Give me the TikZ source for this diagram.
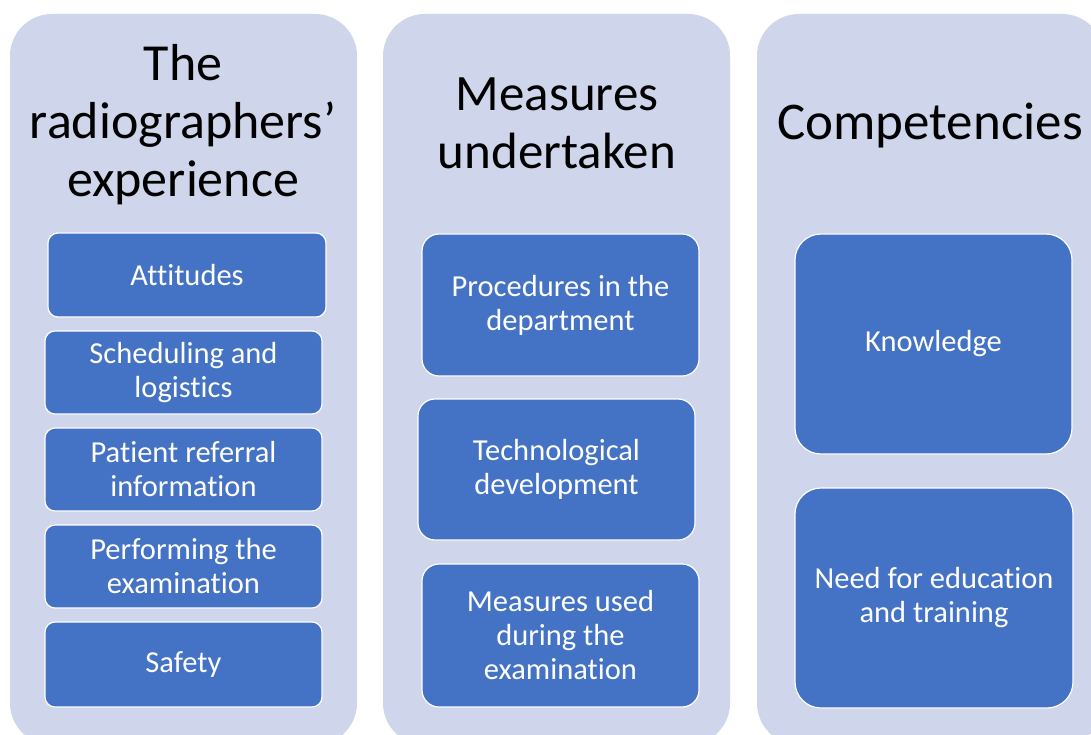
\documentclass[tikz,border=0pt]{standalone}
\usepackage{fontspec}
\setmainfont{Carlito}[RawFeature={-liga;-clig;-dlig}]
\definecolor{colbg}{HTML}{CFD5EA}
\definecolor{itembg}{HTML}{4472C4}
\begin{document}
\begin{tikzpicture}[x=1pt,y=-1pt,
  column/.style={fill=colbg, draw=none, rounded corners=42pt, minimum width=347pt, inner sep=0pt},
  heading/.style={font=\fontsize{52}{58}\selectfont, align=center, text=black, inner sep=0pt},
  item/.style={fill=itembg, draw=white, line width=1.2pt, text=white,
    font=\fontsize{30.5}{34}\selectfont, align=center, inner sep=0pt, minimum width=277pt},
]
\useasboundingbox (0,0) rectangle (1091,735);
\clip (0,0) rectangle (1091,735);
\fill[white] (0,0) rectangle (1091,735);

% three lavender columns
\node[column, minimum height=731pt] (c1) at (183.5,379.5) {};
\node[column, minimum height=731pt] (c2) at (556.5,379.5) {};
\node[column, minimum height=731pt] (c3) at (930.5,379.5) {};

% column headings
\node[heading] (h1) at (183,125) {The\\radiographers’\\experience};
\node[heading, font=\fontsize{51}{58}\selectfont] (h2) at (557,123) {Measures\\undertaken};
\node[heading, font=\fontsize{53}{58}\selectfont] (h3) at (930,126) {Competencies};

% first column
\node[item, minimum width=278pt, minimum height=84pt, rounded corners=10pt] (att) at (187,275) {Attitudes};
\node[item, minimum height=83pt, rounded corners=10pt] (sched) at (183.5,372.5) {Scheduling and\\logistics};
\node[item, minimum height=83pt, rounded corners=10pt] (ref) at (183.5,469.5) {Patient referral\\information};
\node[item, minimum height=83pt, rounded corners=10pt] (perf) at (183.5,566.5) {Performing the\\examination};
\node[item, minimum height=85pt, rounded corners=10pt] (safe) at (183.5,664.5) {Safety};

% second column
\node[item, minimum height=142pt, rounded corners=17pt] (proc) at (560.5,305) {Procedures in the\\department};
\node[item, minimum height=141pt, rounded corners=17pt] (tech) at (556.5,469.5) {Technological\\development};
\node[item, minimum height=143pt, rounded corners=17pt] (used) at (560.5,635.5) {Measures used\\during the\\examination};

% third column
\node[item, minimum height=220pt, rounded corners=26pt] (know) at (933.5,344) {Knowledge};
\node[item, minimum width=278pt, minimum height=220pt, rounded corners=26pt] (need) at (934,598) {Need for education\\and training};
\end{tikzpicture}
\end{document}
